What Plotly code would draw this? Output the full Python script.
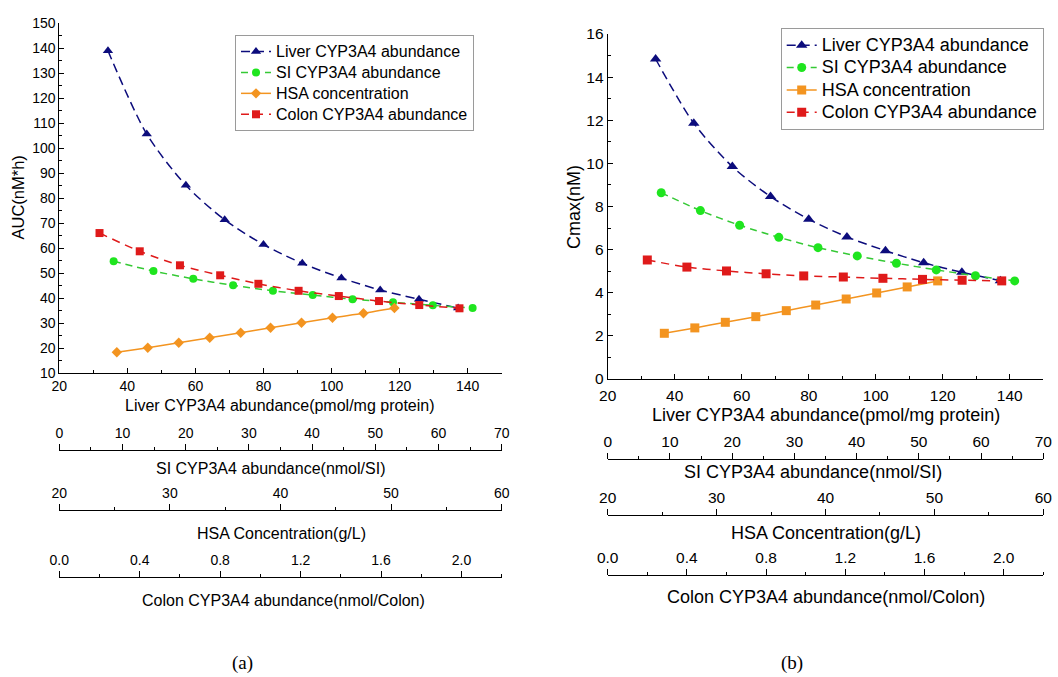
import plotly.graph_objects as go

# ---------------- data ----------------
series_names = ["Liver CYP3A4 abundance", "SI CYP3A4 abundance",
                "HSA concentration", "Colon CYP3A4 abundance"]

liver_x = [34.3, 45.7, 57.2, 68.6, 80.0, 91.4, 102.9, 114.3, 125.7, 137.2]
si_x = [8.6, 14.9, 21.2, 27.5, 33.8, 40.1, 46.4, 52.8, 59.1, 65.4]
hsa_x = [25.2, 28.0, 30.8, 33.6, 36.4, 39.1, 41.9, 44.7, 47.5, 50.3]
colon_x = [0.20, 0.40, 0.60, 0.80, 0.99, 1.19, 1.39, 1.59, 1.79, 1.99]

auc_liver = [139.0, 105.7, 85.2, 71.4, 61.5, 54.0, 48.1, 43.3, 39.6, 36.1]
auc_si = [54.8, 50.9, 47.8, 45.2, 43.0, 41.3, 39.6, 38.4, 37.2, 36.1]
auc_hsa = [18.4, 20.2, 22.2, 24.2, 26.2, 28.2, 30.2, 32.2, 34.0, 36.1]
auc_colon = [66.1, 58.8, 53.2, 49.2, 45.8, 43.0, 40.9, 38.9, 37.3, 36.0]

cmax_liver = [14.84, 11.86, 9.85, 8.46, 7.41, 6.59, 5.95, 5.39, 4.95, 4.56]
cmax_si = [8.64, 7.81, 7.13, 6.57, 6.09, 5.71, 5.37, 5.06, 4.79, 4.55]
cmax_hsa = [2.12, 2.37, 2.63, 2.89, 3.17, 3.43, 3.71, 3.99, 4.27, 4.55]
cmax_colon = [5.52, 5.19, 5.01, 4.88, 4.78, 4.73, 4.67, 4.62, 4.58, 4.55]

axis_titles = ["Liver CYP3A4 abundance(pmol/mg protein)",
               "SI CYP3A4 abundance(nmol/SI)",
               "HSA Concentration(g/L)",
               "Colon CYP3A4 abundance(nmol/Colon)"]

# ---------------- layout helpers ----------------
W, H = 1058, 677
FONT = "Arial, Liberation Sans, sans-serif"


def px(x):
    return x / W


def py(y):
    return 1 - y / H


C_NAVY = "#0c0c7c"
C_GREEN_M = "#1fe51f"
C_GREEN_L = "#35c935"
C_ORANGE = "#f39420"
C_RED = "#df1a1a"

fig = go.Figure()


def add_panel(xs, ys, xaxes, yaxis, legend, msize, hsa_symbol, legend_fs):
    specs = [
        (C_NAVY, C_NAVY, "triangle-up", "9px,5px"),
        (C_GREEN_L, C_GREEN_M, "circle", "7px,5px"),
        (C_ORANGE, C_ORANGE, hsa_symbol, "solid"),
        (C_RED, C_RED, "square", "8px,6px"),
    ]
    for name, x, y, xa, (lc, mc, sym, dash) in zip(series_names, xs, ys, xaxes, specs):
        fig.add_trace(go.Scatter(
            x=x, y=y,
            name='<span style="font-size:%dpx">%s</span>' % (legend_fs, name),
            xaxis=xa, yaxis=yaxis, legend=legend,
            mode="lines+markers",
            line=dict(color=lc, width=1.5, dash=dash, shape="spline", smoothing=0.8),
            marker=dict(color=mc, symbol=sym, size=msize if sym != "triangle-up" else msize + 1,
                        line=dict(width=0)),
            cliponaxis=False,
        ))


add_panel([liver_x, si_x, hsa_x, colon_x], [auc_liver, auc_si, auc_hsa, auc_colon],
          ["x", "x2", "x3", "x4"], "y", "legend", 8, "diamond", 16)
add_panel([liver_x, si_x, hsa_x, colon_x], [cmax_liver, cmax_si, cmax_hsa, cmax_colon],
          ["x5", "x6", "x7", "x8"], "y2", "legend2", 9, "square", 18)


def main_x(domain, anchor, fs, standoff=0):
    return dict(domain=domain, anchor=anchor, range=[20, 150], tick0=20, dtick=20,
                automargin=False, ticklabelstandoff=standoff,
                showline=True, linecolor="black", linewidth=1, ticks="inside",
                ticklen=5, tickcolor="black", showgrid=False, zeroline=False,
                tickfont=dict(family=FONT, size=fs, color="black"),
                minor=dict(dtick=10, tick0=20, ticks="inside", ticklen=3,
                           tickcolor="black", showgrid=False))


def main_y(domain, anchor, rng, dtick, mdtick, fs):
    return dict(domain=domain, anchor=anchor, range=rng, tick0=rng[0], dtick=dtick,
                automargin=False,
                showline=True, linecolor="black", linewidth=1, ticks="inside",
                ticklen=5, tickcolor="black", showgrid=False, zeroline=False,
                tickfont=dict(family=FONT, size=fs, color="black"),
                minor=dict(dtick=mdtick, tick0=rng[0], ticks="inside", ticklen=3,
                           tickcolor="black", showgrid=False))


def sec_x(base, domain, pos, rng, dtick, mdtick, fs, fmt=None):
    d = dict(overlaying=base, domain=domain, anchor="free", position=pos, side="top",
             automargin=False,
             range=rng, tick0=rng[0], dtick=dtick, showline=True, linecolor="black",
             linewidth=1, ticks="outside", ticklen=6, tickcolor="black",
             showgrid=False, zeroline=False,
             tickfont=dict(family=FONT, size=fs, color="black"),
             minor=dict(dtick=mdtick, tick0=rng[0], ticks="outside", ticklen=3,
                        tickcolor="black", showgrid=False))
    if fmt:
        d["tickformat"] = fmt
    return d


dL = [px(59.3), px(501.7)]
dR = [px(607.7), px(1043.3)]

layout = dict(
    width=W, height=H, margin=dict(l=0, r=0, t=0, b=0, autoexpand=False),
    paper_bgcolor="white", plot_bgcolor="white",
    font=dict(family=FONT, color="black"),
    xaxis=main_x(dL, "y", 14),
    yaxis=main_y([py(373.3), py(23.3)], "x", [10, 150], 10, 5, 14),
    xaxis2=sec_x("x", dL, py(450), [0, 70], 10, 5, 14),
    xaxis3=sec_x("x", dL, py(510), [20, 60], 10, 5, 14),
    xaxis4=sec_x("x", dL, py(576.7), [0, 2.2], 0.4, 0.2, 14, ".1f"),
    xaxis5=main_x(dR, "y2", 15.5, standoff=2),
    yaxis2=main_y([py(379), py(34)], "x5", [0, 16], 2, 1, 15.5),
    xaxis6=sec_x("x5", dR, py(459), [0, 70], 10, 5, 15.5),
    xaxis7=sec_x("x5", dR, py(515), [20, 60], 10, 5, 15.5),
    xaxis8=sec_x("x5", dR, py(575), [0, 2.2], 0.4, 0.2, 15.5, ".1f"),
    legend=dict(x=px(235), y=py(35), xanchor="left", yanchor="top",
                bordercolor="#9a9a9a", borderwidth=1, bgcolor="white",
                font=dict(family=FONT, size=13.8, color="black"),
                tracegroupgap=0, itemwidth=30),
    legend2=dict(x=px(780.7), y=py(28), xanchor="left", yanchor="top",
                 bordercolor="#9a9a9a", borderwidth=1, bgcolor="white",
                 font=dict(family=FONT, size=14.9, color="black"),
                 tracegroupgap=0, itemwidth=30),
    showlegend=True,
)
fig.update_layout(**layout)

ann = []
left_title_pos = [(280, 405), (270, 468.3), (281, 533.3), (283.5, 600)]
right_title_pos = [(826, 415), (812.5, 471.7), (826, 533.3), (826, 596.7)]
for t, (x, y) in zip(axis_titles, left_title_pos):
    ann.append(dict(x=px(x), y=py(y), text=t, font=dict(family=FONT, size=16)))
for t, (x, y) in zip(axis_titles, right_title_pos):
    ann.append(dict(x=px(x), y=py(y), text=t, font=dict(family=FONT, size=18)))
ann.append(dict(x=px(18), y=py(197.5), text="AUC(nM*h)", textangle=-90,
                font=dict(family=FONT, size=16.5)))
ann.append(dict(x=px(573.3), y=py(206.7), text="Cmax(nM)", textangle=-90,
                font=dict(family=FONT, size=18)))
ann.append(dict(x=px(242), y=py(663), text="(a)",
                font=dict(family="Liberation Serif, Times New Roman, serif", size=19)))
ann.append(dict(x=px(792), y=py(663), text="(b)",
                font=dict(family="Liberation Serif, Times New Roman, serif", size=19)))
for a in ann:
    a.update(xref="paper", yref="paper", showarrow=False, xanchor="center",
             yanchor="middle")
    a["font"]["color"] = "black"
fig.update_layout(annotations=ann)

fig.write_html("out.html", config={"displayModeBar": False},
               post_script="document.body.style.margin='0';")
